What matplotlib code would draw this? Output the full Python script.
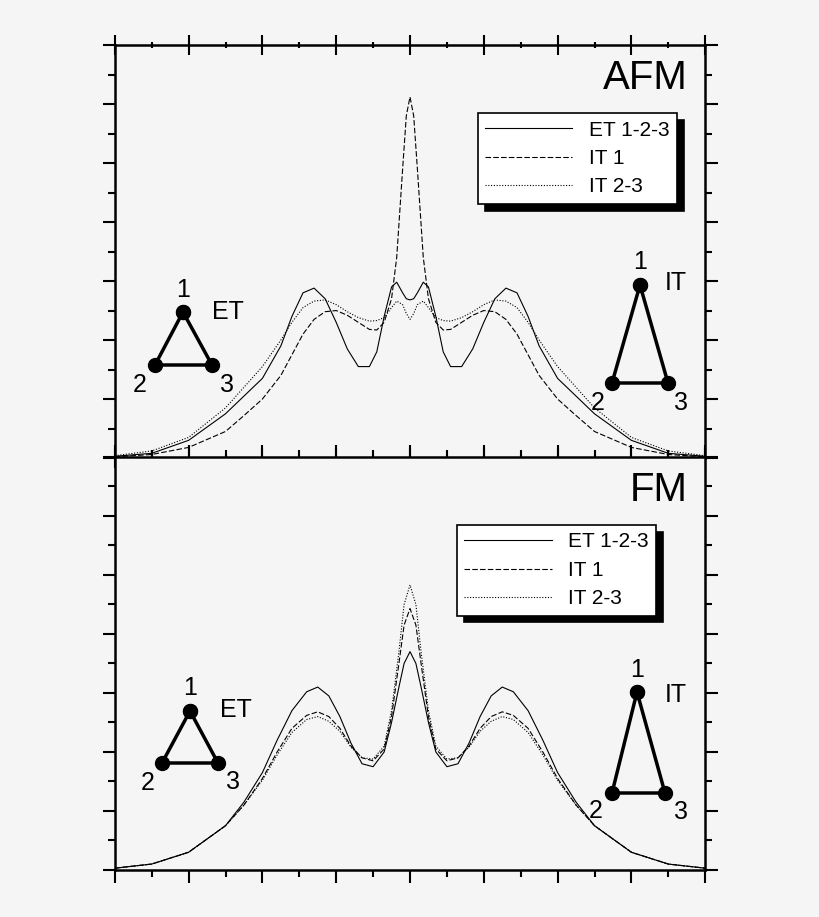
import matplotlib.pyplot as plt
from matplotlib.lines import Line2D

plt.rcParams['font.family'] = ['Liberation Sans', 'DejaVu Sans']

# AFM panel (top) - energy grid and spectra
x_afm = [-4.0, -3.5, -3.0, -2.5, -2.25, -2.0, -1.75, -1.6, -1.45, -1.3, -1.15, -1.0, -0.85, -0.7, -0.55,
         -0.45, -0.35, -0.25, -0.18, -0.1, -0.05,
         0.0, 0.05, 0.1, 0.18, 0.25, 0.35, 0.45, 0.55, 0.7, 0.85, 1.0, 1.15, 1.3, 1.45, 1.6,
         1.75, 2.0, 2.25, 2.5, 3.0, 3.5, 4.0]
afm_et = [0.03, 0.08, 0.3, 0.75, 1.05, 1.35, 1.9, 2.4, 2.8, 2.88, 2.7, 2.3, 1.85, 1.55, 1.55,
          1.8, 2.4, 2.9, 2.98, 2.8, 2.7,
          2.68, 2.7, 2.8, 2.98, 2.9, 2.4, 1.8, 1.55, 1.55, 1.85, 2.3, 2.7, 2.88, 2.8, 2.4,
          1.9, 1.35, 1.05, 0.75, 0.3, 0.08, 0.03]
afm_it1 = [0.02, 0.06, 0.18, 0.45, 0.72, 1.0, 1.4, 1.75, 2.1, 2.35, 2.48, 2.5, 2.42, 2.3, 2.18,
           2.17, 2.3, 2.7, 3.4, 4.9, 5.8,
           6.12, 5.8, 4.9, 3.4, 2.7, 2.3, 2.17, 2.18, 2.3, 2.42, 2.5, 2.48, 2.35, 2.1, 1.75,
           1.4, 1.0, 0.72, 0.45, 0.18, 0.06, 0.02]
afm_it23 = [0.04, 0.12, 0.35, 0.85, 1.2, 1.55, 2.0, 2.3, 2.55, 2.66, 2.68, 2.6, 2.48, 2.38, 2.32,
            2.33, 2.38, 2.55, 2.66, 2.6, 2.45,
            2.35, 2.45, 2.6, 2.66, 2.55, 2.38, 2.33, 2.32, 2.38, 2.48, 2.6, 2.68, 2.66, 2.55, 2.3,
            2.0, 1.55, 1.2, 0.85, 0.35, 0.12, 0.04]

# FM panel (bottom)
x_fm = [-4.0, -3.5, -3.0, -2.5, -2.25, -2.0, -1.8, -1.6, -1.4, -1.25, -1.1, -0.95, -0.8, -0.65, -0.5,
        -0.35, -0.25, -0.15, -0.08,
        0.0, 0.08, 0.15, 0.25, 0.35, 0.5, 0.65, 0.8, 0.95, 1.1, 1.25, 1.4, 1.6, 1.8,
        2.0, 2.25, 2.5, 3.0, 3.5, 4.0]
fm_et = [0.03, 0.1, 0.3, 0.75, 1.15, 1.65, 2.2, 2.7, 3.02, 3.1, 2.95, 2.6, 2.15, 1.8, 1.75,
         2.0, 2.5, 3.1, 3.5,
         3.7, 3.5, 3.1, 2.5, 2.0, 1.75, 1.8, 2.15, 2.6, 2.95, 3.1, 3.02, 2.7, 2.2,
         1.65, 1.15, 0.75, 0.3, 0.1, 0.03]
fm_it1 = [0.03, 0.1, 0.3, 0.75, 1.1, 1.55, 2.0, 2.4, 2.62, 2.68, 2.6, 2.4, 2.1, 1.9, 1.85,
          2.05, 2.6, 3.5, 4.15,
          4.43, 4.15, 3.5, 2.6, 2.05, 1.85, 1.9, 2.1, 2.4, 2.6, 2.68, 2.62, 2.4, 2.0,
          1.55, 1.1, 0.75, 0.3, 0.1, 0.03]
fm_it23 = [0.03, 0.1, 0.3, 0.75, 1.1, 1.52, 1.95, 2.33, 2.55, 2.6, 2.52, 2.35, 2.08, 1.9, 1.88,
           2.1, 2.7, 3.7, 4.5,
           4.83, 4.5, 3.7, 2.7, 2.1, 1.88, 1.9, 2.08, 2.35, 2.52, 2.6, 2.55, 2.33, 1.95,
           1.52, 1.1, 0.75, 0.3, 0.1, 0.03]

labels = ['ET 1-2-3', 'IT 1', 'IT 2-3']
styles = ['-', (0, (5, 2)), (0, (1, 1.5))]
bg = '#f5f5f5'

fig = plt.figure(figsize=(8.2, 9.17), dpi=100, facecolor=bg)
ax1 = fig.add_axes([0.140, 0.5005, 0.72, 0.4504])
ax2 = fig.add_axes([0.140, 0.0513, 0.72, 0.4504])

for ax, x, ys, name, top in [(ax1, x_afm, [afm_et, afm_it1, afm_it23], 'AFM', True),
                            (ax2, x_fm, [fm_et, fm_it1, fm_it23], 'FM', False)]:
    ax.set_facecolor(bg)
    for y, ls, lab in zip(ys, styles, labels):
        ax.plot(x, y, color='black', lw=0.8, linestyle=ls, label=lab)
    ax.set_xlim(-4, 4)
    ax.set_ylim(0, 7)
    ax.set_xticks(range(-4, 5))
    ax.set_xticks([i * 0.5 for i in range(-8, 9)], minor=True)
    ax.set_yticks(range(0, 8))
    ax.set_yticks([i * 0.5 for i in range(0, 15)], minor=True)
    ax.tick_params(which='both', direction='out', top=True, right=True,
                   labelbottom=False, labelleft=False, width=1.5)
    ax.tick_params(which='major', length=9)
    ax.tick_params(which='minor', length=5)
    for s in ax.spines.values():
        s.set_linewidth(1.8)
    ax.text(0.97, 0.965, name, transform=ax.transAxes, ha='right', va='top', fontsize=29)
    leg = ax.legend(loc='upper right', bbox_to_anchor=(0.97, 0.86) if top else (0.935, 0.86),
                    fancybox=False, edgecolor='black', framealpha=1,
                    shadow={'color': 'black', 'alpha': 1, 'ox': 5, 'oy': -5},
                    fontsize=15, handlelength=4.2, borderpad=0.35, labelspacing=0.45)
    leg.get_frame().set_linewidth(1.2)

ax1.tick_params(axis='x', which='both', direction='inout', bottom=True)
ax1.tick_params(axis='x', which='major', length=14)

# triangle sketches (pixel positions in figure)
triangles = [
    ([(183, 312), (155, 365), (212, 365)], [('1', 183, 290), ('2', 140, 385), ('3', 227, 385), ('ET', 228, 312)]),
    ([(640, 285), (612, 383), (668, 383)], [('1', 640, 262), ('2', 598, 403), ('3', 681, 403), ('IT', 676, 283)]),
    ([(190, 711), (162, 763), (218, 763)], [('1', 190, 688), ('2', 148, 783), ('3', 233, 782), ('ET', 236, 710)]),
    ([(637, 692), (612, 793), (665, 793)], [('1', 637, 670), ('2', 596, 811), ('3', 681, 812), ('IT', 676, 695)]),
]
W, H = 820, 917
for verts, texts in triangles:
    xs = [v[0] / W for v in verts] + [verts[0][0] / W]
    ys = [1 - v[1] / H for v in verts] + [1 - verts[0][1] / H]
    fig.add_artist(Line2D(xs, ys, color='black', lw=2.5, marker='o', markersize=10,
                          transform=fig.transFigure))
    for t, tx, ty in texts:
        fig.text(tx / W, 1 - ty / H, t, ha='center', va='center', fontsize=18)

fig.savefig('out.png', dpi=100, facecolor=bg)
